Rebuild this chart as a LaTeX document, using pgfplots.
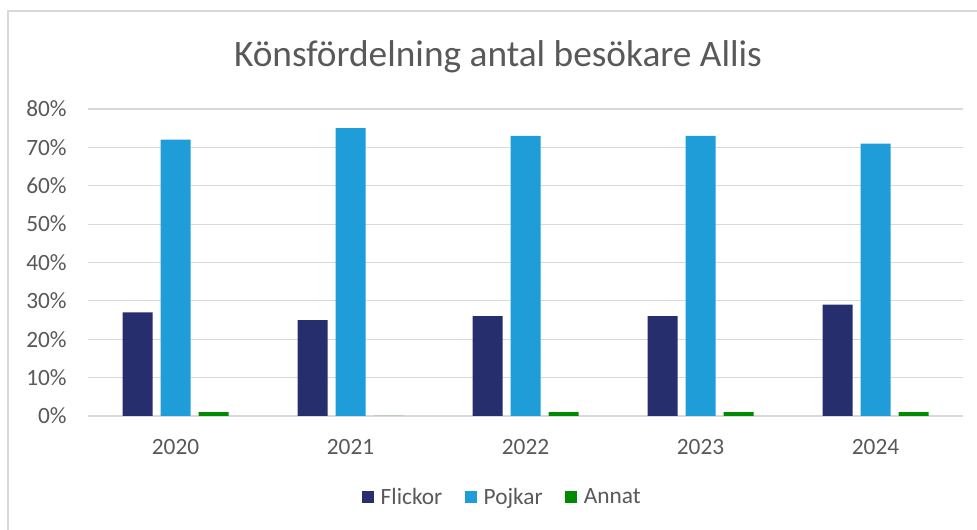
\documentclass[border=0pt]{standalone}
\usepackage{pgfplots}
\pgfplotsset{compat=1.18}
\usepackage{fontspec}
\setmainfont{Carlito}
\definecolor{flick}{RGB}{38,46,110}
\definecolor{pojk}{RGB}{30,157,216}
\definecolor{annat}{RGB}{0,138,0}
\definecolor{txt}{RGB}{89,89,89}
\definecolor{grd}{RGB}{217,217,217}
\begin{document}
\begin{tikzpicture}
\useasboundingbox (0pt,0pt) rectangle (732.75pt,397.5pt);
\fill[white] (0pt,0pt) rectangle (732.75pt,397.5pt);
\draw[grd,line width=1.5pt] (6pt,0pt) -- (6pt,389.25pt) -- (732.75pt,389.25pt);
\node[txt,font=\fontsize{28}{33}\selectfont] at (373.5pt,355pt) {Könsfördelning antal besökare Allis};
\begin{axis}[
  at={(66pt,85.5pt)}, anchor=south west,
  scale only axis,
  width=656.25pt, height=230.25pt,
  xmin=-0.5, xmax=4.5,
  ymin=0, ymax=80,
  ytick={0,10,...,80},
  xtick={0,1,2,3,4},
  xticklabels={2020,2021,2022,2023,2024},
  yticklabel={\pgfmathprintnumber{\tick}\%},
  /pgf/number format/assume math mode=true,
  ymajorgrids, grid style={grd,line width=0.9pt},
  axis line style={draw=none},
  major tick style={draw=none},
  tick label style={txt,font=\fontsize{17.5}{20}\selectfont},
  yticklabel style={xshift=-12.5pt},
  xticklabel style={yshift=-10pt},
  ybar, bar width=22.5pt,
  legend style={at={(0.474,-0.264)}, anchor=center, draw=none, fill=none,
    legend columns=3, font=\fontsize{17.5}{20}\selectfont, text=txt,
    /tikz/every odd column/.append style={column sep=3pt},
    /tikz/every even column/.append style={column sep=15pt}},
  legend image code/.code={\fill[#1] (0pt,-4.5pt) rectangle (9pt,4.5pt);},
]
\addplot[draw=none, fill=flick, bar shift=-28.5pt] coordinates {(0,27) (1,25) (2,26) (3,26) (4,29)};
\addplot[draw=none, fill=pojk, bar shift=0pt] coordinates {(0,72) (1,75) (2,73) (3,73) (4,71)};
\addplot[draw=none, fill=annat, bar shift=28.5pt] coordinates {(0,1) (1,0) (2,1) (3,1) (4,1)};
\legend{Flickor,Pojkar,Annat}
\end{axis}
\end{tikzpicture}
\end{document}
